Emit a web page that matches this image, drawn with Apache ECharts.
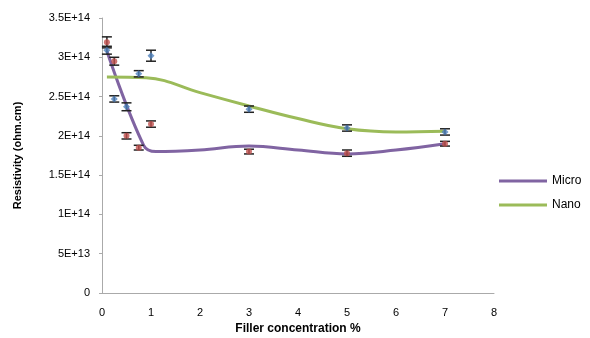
<!DOCTYPE html>
<html><head><meta charset="utf-8">
<script src="https://cdn.jsdelivr.net/npm/echarts@6/dist/echarts.min.js"></script>
<style>html,body{margin:0;padding:0;background:#fff}#c{width:590px;height:338px}</style>
</head><body><div id="c"></div>
<script>
// Measured data (filler %, resistivity in units of 1E14 ohm.cm)
var microX = [0.1, 0.25, 0.5, 0.75, 1, 3, 5, 7];
var microY = [3.19, 2.95, 2.00, 1.85, 2.15, 1.80, 1.78, 1.90];
var microErr = [0.07, 0.05, 0.04, 0.03, 0.04, 0.03, 0.04, 0.03];
var nanoX = [0.1, 0.25, 0.5, 0.75, 1, 3, 5, 7];
var nanoY = [3.09, 2.47, 2.37, 2.79, 3.02, 2.34, 2.10, 2.05];
var nanoErr = [0.05, 0.04, 0.05, 0.04, 0.07, 0.04, 0.04, 0.04];
// trend curves
var microCurveX = [0.1, 0.85, 1.1, 2, 3, 4, 5, 6, 7];
var microCurveY = [3.08, 1.88, 1.80, 1.82, 1.87, 1.82, 1.77, 1.82, 1.90];
var nanoCurveX = [0.1, 0.9, 2, 3, 4, 5, 6, 7];
var nanoCurveY = [2.75, 2.74, 2.55, 2.38, 2.22, 2.09, 2.05, 2.06];
var yTickLabels = ['0', '5E+13', '1E+14', '1.5E+14', '2E+14', '2.5E+14', '3E+14', '3.5E+14'];
var SCALE = 1e14;

function pairs(xs, ys) { return xs.map(function (x, i) { return [x, ys[i] * SCALE]; }); }
function errData(xs, ys, es) { return xs.map(function (x, i) { return [x, (ys[i] - es[i]) * SCALE, (ys[i] + es[i]) * SCALE]; }); }
function errRender(params, api) {
  var lo = api.coord([api.value(0), api.value(1)]);
  var hi = api.coord([api.value(0), api.value(2)]);
  var w = 5;
  var st = { stroke: '#222', lineWidth: 1.5 };
  return { type: 'group', children: [
    { type: 'line', shape: { x1: lo[0], y1: lo[1], x2: hi[0], y2: hi[1] }, style: st },
    { type: 'line', shape: { x1: lo[0] - w, y1: lo[1], x2: lo[0] + w, y2: lo[1] }, style: st },
    { type: 'line', shape: { x1: hi[0] - w, y1: hi[1], x2: hi[0] + w, y2: hi[1] }, style: st }
  ]};
}
var font = '"Liberation Sans", "DejaVu Sans", sans-serif';
var chart = echarts.init(document.getElementById('c'), null, { renderer: 'canvas' });
chart.setOption({
  animation: false,
  grid: { left: 102, right: 96, top: 18, bottom: 45, containLabel: false, outerBoundsMode: 'none' },
  legend: {
    orient: 'vertical', left: 494, top: 170, itemWidth: 48, itemHeight: 3, itemGap: 12,
    textStyle: { fontFamily: font, fontSize: 12, color: '#000' },
    data: [{ name: 'Micro', icon: 'rect' }, { name: 'Nano', icon: 'rect' }]
  },
  xAxis: {
    type: 'value', min: 0, max: 8, interval: 1,
    name: 'Filler concentration %', nameLocation: 'middle', nameGap: 30,
    nameTextStyle: { fontFamily: font, fontSize: 12, fontWeight: 'bold', color: '#000' },
    axisLine: { lineStyle: { color: '#aaa' } }, axisTick: { show: false },
    axisLabel: { fontFamily: font, fontSize: 11, color: '#000', margin: 14 },
    splitLine: { show: false }
  },
  yAxis: {
    type: 'value', min: 0, max: 3.5e14, interval: 0.5e14,
    name: 'Resistivity (ohm.cm)', nameLocation: 'middle', nameGap: 79, nameRotate: 90,
    nameTextStyle: { fontFamily: font, fontSize: 11, fontWeight: 'bold', color: '#000' },
    axisLine: { show: true, lineStyle: { color: '#aaa' } },
    axisTick: { show: true, length: 3, lineStyle: { color: '#aaa' } },
    axisLabel: { fontFamily: font, fontSize: 11, color: '#000', margin: 12,
      formatter: function (v) { return yTickLabels[Math.round(v / 0.5e14)]; } },
    splitLine: { show: false }
  },
  series: [
    { name: 'Micro', type: 'line', smooth: 0.4, showSymbol: false, data: pairs(microCurveX, microCurveY),
      lineStyle: { color: '#8064A2', width: 3 }, itemStyle: { color: '#8064A2' }, z: 2 },
    { name: 'Nano', type: 'line', smooth: 0.4, showSymbol: false, data: pairs(nanoCurveX, nanoCurveY),
      lineStyle: { color: '#9BBB59', width: 3 }, itemStyle: { color: '#9BBB59' }, z: 2 },
    { type: 'custom', renderItem: errRender, data: errData(microX, microY, microErr), encode: { x: 0, y: [1, 2] }, z: 3 },
    { type: 'custom', renderItem: errRender, data: errData(nanoX, nanoY, nanoErr), encode: { x: 0, y: [1, 2] }, z: 3 },
    { type: 'scatter', data: pairs(microX, microY), symbol: 'circle', symbolSize: 6,
      itemStyle: { color: '#C0504D' }, z: 4 },
    { type: 'scatter', data: pairs(nanoX, nanoY), symbol: 'diamond', symbolSize: 7,
      itemStyle: { color: '#4F81BD' }, z: 4 }
  ]
});
</script></body></html>
